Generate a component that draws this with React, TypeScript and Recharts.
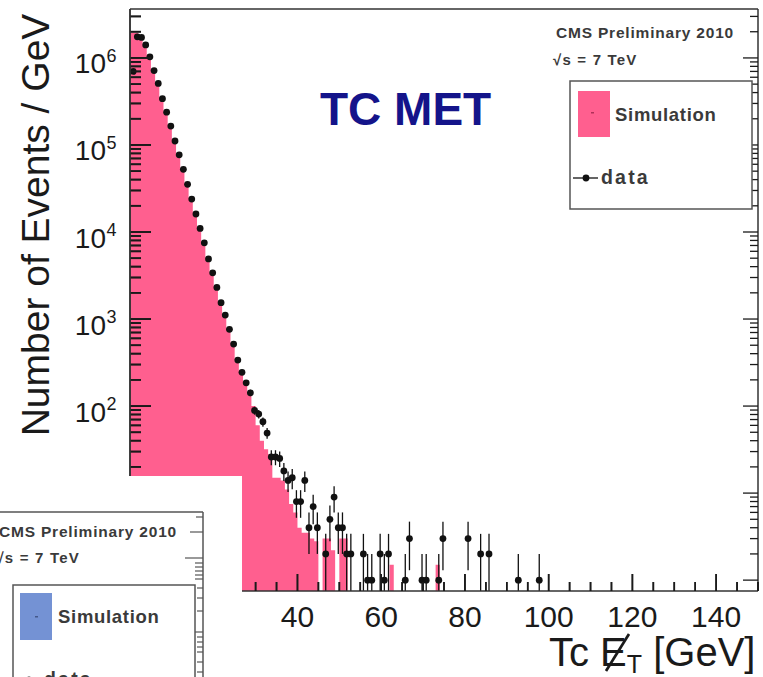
import React from "react";
import { Area, ComposedChart, ErrorBar, ReferenceLine, Scatter, XAxis, YAxis } from "recharts";

const W = 763;
const H = 677;
const FONT = "'Liberation Sans', Arial, Helvetica, sans-serif";
const PINK = "#ff5f8f";
const INK = "#1a1a1a";

const X_MAX = 150;
const Y_MIN = 0.75;
const Y_MAX = 3.65e6;

// simulation, events / GeV, 1 GeV bins from 0 GeV (0 = empty bin)
const SIM = [
  1.95e6, 1.95e6, 1.75e6, 1.45e6, 1.06e6, 7.4e5, 5.3e5, 3.55e5, 2.48e5, 1.72e5,
  1.16e5, 8.0e4, 5.45e4, 3.65e4, 2.48e4, 1.67e4, 1.14e4, 7800, 5100, 3500,
  2400, 1600, 1150, 790, 535, 350, 255, 192, 140, 100,
  60, 40, 32, 28, 15, 15, 14, 11, 7.5, 6,
  4, 3.5, 3.5, 3, 2.8, 0, 3, 3, 2.2, 0,
  3, 3, 0, 0, 0, 0, 0, 0, 0, 0,
  0, 0, 1.5, 0, 0, 0, 0, 0, 0, 0,
  0, 0, 0, 1.5,
];

// data points: bin centre [GeV], events / GeV, stat. error
const DATA_X = [
  0.75, 1.75, 2.75, 3.75, 4.75, 5.75, 6.75, 7.75, 8.75, 9.75,
  10.75, 11.75, 12.75, 13.75, 14.75, 15.75, 16.75, 17.75, 18.75, 19.75,
  20.75, 21.75, 22.75, 23.75, 24.75, 25.75, 26.75, 27.75, 28.75, 29.75,
  30.75, 31.75, 32.75, 33.75, 34.75, 35.75, 36.75, 37.75, 38.75, 39.75,
  40.75, 41.75, 42.75, 43.75, 44.75, 46.75, 47.75, 48.75, 49.75, 50.75,
  51.75, 52.75, 55.75, 56.75, 57.75, 59.75, 60.75, 61.75, 65.75, 66.75,
  69.75, 70.75, 73.75, 74.75, 80.75, 83.75, 85.75, 92.75, 97.75,
];
const DATA_Y = [
  7.0e5, 1.75e6, 1.72e6, 1.41e6, 1.03e6, 7.15e5, 5.1e5, 3.4e5, 2.38e5, 1.65e5,
  1.11e5, 7.7e4, 5.25e4, 3.53e4, 2.39e4, 1.61e4, 1.1e4, 7500, 4900, 3400,
  2310, 1540, 1110, 762, 516, 338, 244, 185, 142, 89,
  81, 66, 49, 26, 26, 25, 18, 14, 15, 8,
  8, 14, 4, 7, 4, 2, 5, 9, 4, 4,
  2, 2, 2, 1, 1, 2, 1, 2, 1, 3,
  1, 1, 1, 3, 3, 2, 2, 1, 1,
];
const DATA_ERR = [
  837, 1323, 1311, 1187, 1015, 846, 714, 583, 488, 406,
  333, 277, 229, 188, 155, 127, 105, 87, 70, 58,
  48, 39, 33, 28, 23, 18, 16, 14, 12, 9.4,
  9, 8.1, 7, 5.1, 5.1, 5, 4.2, 3.7, 3.9, 2.8,
  2.8, 3.7, 2, 2.6, 2, 1.4, 2.2, 3, 2, 2,
  1.4, 1.4, 1.4, 1, 1, 1.4, 1, 1.4, 1, 1.7,
  1, 1, 1, 1.7, 1.7, 1.4, 1.4, 1, 1,
];

const X_LABELS = [20, 40, 60, 80, 100, 120, 140];
const X_TICKS = Array.from({ length: 31 }, (_, i) => i * 5);
const Y_DECADES = [1, 10, 100, 1e3, 1e4, 1e5, 1e6];
const Y_MINOR = [2, 3, 4, 5, 6, 7, 8, 9];
const Y_TICKS = Y_DECADES.flatMap((d) => [d, ...Y_MINOR.map((m) => d * m)]).filter((v) => v <= Y_MAX);

const simRows = [
  ...SIM.map((v, k) => ({ x: k, sim: v > 0 ? v : Y_MIN })),
  { x: SIM.length, sim: Y_MIN },
];
const dataRows = DATA_X.map((x, i) => ({
  x,
  y: DATA_Y[i],
  err: [Math.min(DATA_ERR[i], DATA_Y[i] - Y_MIN), DATA_ERR[i]],
}));

// plot box follows from the margins and axis sizes below
const Y_AXIS_W = 130;
const R_AXIS_W = 5;
const X_AXIS_H = 86;
const MARGIN = { top: 9, right: 0, bottom: 0, left: 0 };
const PLOT = {
  left: Y_AXIS_W,
  right: W - R_AXIS_W,
  top: MARGIN.top,
  bottom: H - X_AXIS_H,
};

function XTick(p: any) {
  const { x, y, payload } = p;
  const major = X_LABELS.includes(payload.value);
  return (
    <g>
      <line x1={x} x2={x} y1={y} y2={y - (major ? 17 : 9)} stroke={INK} strokeWidth={1.6} />
      {major ? (
        <text x={x} y={y + 36} textAnchor="middle" fontSize={30} fill={INK} fontFamily={FONT}>
          {payload.value}
        </text>
      ) : null}
    </g>
  );
}

function YTickLeft(p: any) {
  const { x, y, payload } = p;
  const exp = Y_DECADES.indexOf(payload.value);
  const major = exp >= 0;
  return (
    <g>
      <line x1={x} x2={x + (major ? 21 : 11)} y1={y} y2={y} stroke={INK} strokeWidth={1.7} />
      {major && exp >= 2 ? (
        <>
          <text x={x - 24} y={y + 15.5} textAnchor="end" fontSize={28} fill={INK} fontFamily={FONT}>
            10
          </text>
          <text x={x - 23.5} y={y + 4} fontSize={18} fill={INK} fontFamily={FONT}>
            {exp}
          </text>
        </>
      ) : major ? (
        <text x={x - 14} y={y + 10} textAnchor="end" fontSize={28} fill={INK} fontFamily={FONT}>
          {payload.value}
        </text>
      ) : null}
    </g>
  );
}

function YTickRight(p: any) {
  const { x, y, payload } = p;
  const major = Y_DECADES.includes(payload.value);
  return <line x1={x} x2={x - (major ? 15 : 8)} y1={y} y2={y} stroke={INK} strokeWidth={1.3} />;
}

function DataDot(p: any) {
  if (p.cx == null || p.cy == null) return null;
  return <circle cx={p.cx} cy={p.cy} r={3.4} fill="#111" />;
}

// the axes are drawn twice: hidden under the series (for the layout) and visible on top
function Axes({ show }: { show: boolean }) {
  const line = show ? { stroke: "#333", strokeWidth: 1.5 } : false;
  return (
    <>
      <XAxis
        type="number"
        dataKey="x"
        domain={[0, X_MAX]}
        allowDataOverflow
        ticks={X_TICKS}
        interval={0}
        height={X_AXIS_H}
        tickSize={0}
        tickMargin={0}
        tick={show ? XTick : false}
        tickLine={false}
        axisLine={line}
      />
      <YAxis
        yAxisId="l"
        type="number"
        scale="log"
        domain={[Y_MIN, Y_MAX]}
        allowDataOverflow
        ticks={Y_TICKS}
        interval={0}
        width={Y_AXIS_W}
        tickSize={0}
        tickMargin={0}
        tick={show ? YTickLeft : false}
        tickLine={false}
        axisLine={line}
      />
      <YAxis
        yAxisId="r"
        orientation="right"
        type="number"
        scale="log"
        domain={[Y_MIN, Y_MAX]}
        allowDataOverflow
        ticks={Y_TICKS}
        interval={0}
        width={R_AXIS_W}
        tickSize={0}
        tickMargin={0}
        tick={show ? YTickRight : false}
        tickLine={false}
        axisLine={line}
      />
    </>
  );
}

// tick marks repeated on top of the filled histogram (ROOT draws the frame last)
const tickY = (v: number) =>
  PLOT.bottom -
  ((Math.log(v) - Math.log(Y_MIN)) / (Math.log(Y_MAX) - Math.log(Y_MIN))) * (PLOT.bottom - PLOT.top);
const tickX = (v: number) => PLOT.left + (v / X_MAX) * (PLOT.right - PLOT.left);

function FrameTicks() {
  return (
    <g stroke={INK}>
      {Y_TICKS.map((v) => {
        const major = Y_DECADES.includes(v);
        const y = tickY(v);
        return <line key={`y${v}`} x1={PLOT.left} x2={PLOT.left + (major ? 21 : 11)} y1={y} y2={y} strokeWidth={1.7} />;
      })}
      {X_TICKS.map((v) => {
        const major = X_LABELS.includes(v);
        const x = tickX(v);
        return <line key={`x${v}`} x1={x} x2={x} y1={PLOT.bottom} y2={PLOT.bottom - (major ? 17 : 9)} strokeWidth={1.6} />;
      })}
      <line x1={PLOT.left} x2={PLOT.left} y1={PLOT.top} y2={PLOT.bottom} stroke="#333" strokeWidth={1.5} />
    </g>
  );
}

const INSET_TICKS = [
  [517, 7], [532, 13], [558, 18], [563, 8], [567, 8], [571, 8], [575, 8], [579, 8],
  [588, 6], [598, 6], [611, 6], [632, 16], [637, 6], [642, 6], [647, 6], [652, 6], [662, 6], [672, 6],
];

function Overlay() {
  const label = { fontFamily: FONT, fontWeight: 700, fill: "#3a3a3a" } as const;
  return (
    <svg width={W} height={H} style={{ position: "absolute", left: 0, top: 0, zIndex: 3, pointerEvents: "none" }}>
      <FrameTicks />
      <text x={320} y={125} fontSize={46} fontWeight={700} fill="#14148a" fontFamily={FONT}>
        TC MET
      </text>
      <text x={556} y={38} fontSize={15.5} letterSpacing={0.8} {...label}>CMS Preliminary 2010</text>
      <text x={553} y={65} fontSize={15} letterSpacing={1.2} {...label}>√s = 7 TeV</text>
      <rect x={570} y={81} width={182} height={128} fill="#fff" stroke="#555" strokeWidth={1.5} />
      <rect x={578} y={91} width={32} height={46} fill={PINK} />
      <rect x={591} y={112} width={3} height={1.5} fill="#b03058" />
      <text x={615} y={121} fontSize={18.5} letterSpacing={0.7} {...label}>Simulation</text>
      <line x1={573} x2={598} y1={178} y2={178} stroke="#111" strokeWidth={1.3} />
      <circle cx={586} cy={178} r={3.4} fill="#111" />
      <text x={601} y={184} fontSize={19.5} letterSpacing={2.2} {...label}>data</text>

      <text
        transform="translate(49,225) rotate(-90)"
        textAnchor="middle"
        fontSize={39}
        fill={INK}
        fontFamily={FONT}
      >
        Number of Events / GeV
      </text>
      <text x={549} y={666} fontSize={40} fill={INK} fontFamily={FONT}>
        Tc E
        <tspan dy={7} fontSize={25}>T</tspan>
        <tspan dy={-7}> [GeV]</tspan>
      </text>
      <line x1={606} x2={629} y1={671} y2={634} stroke={INK} strokeWidth={2.7} />

      {/* corner of the neighbouring plot pasted over the lower left */}
      <rect x={0} y={476} width={242} height={H - 476} fill="#fff" />
      <line x1={0} x2={203} y1={512} y2={512} stroke="#555" strokeWidth={1.5} />
      <line x1={203} x2={203} y1={512} y2={H} stroke="#555" strokeWidth={1.5} />
      {INSET_TICKS.map(([ty, len]) => (
        <line key={ty} x1={203} x2={203 - len} y1={ty} y2={ty} stroke="#555" strokeWidth={1.2} />
      ))}
      <text x={177} y={537} textAnchor="end" fontSize={15.5} letterSpacing={0.8} {...label}>CMS Preliminary 2010</text>
      <text x={80} y={563} textAnchor="end" fontSize={15} letterSpacing={1.2} {...label}>√s = 7 TeV</text>
      <rect x={13} y={585} width={182} height={130} fill="#fff" stroke="#555" strokeWidth={1.5} />
      <rect x={20} y={593} width={32} height={47} fill="#7492d4" />
      <rect x={35} y={616} width={3} height={1.5} fill="#44588a" />
      <text x={58} y={623} fontSize={18.5} letterSpacing={0.7} {...label}>Simulation</text>
      <line x1={16} x2={41} y1={680} y2={680} stroke="#111" strokeWidth={1.3} />
      <circle cx={29} cy={680} r={3.4} fill="#111" />
      <text x={44} y={686} fontSize={19.5} letterSpacing={2.2} {...label}>data</text>
    </svg>
  );
}

export default function App() {
  return (
    <div style={{ position: "relative", width: W, height: H, background: "#fff", overflow: "hidden" }}>
      <style>{"body{margin:0}"}</style>
      <div style={{ position: "absolute", left: 0, top: 0, zIndex: 1 }}>
        <ComposedChart width={W} height={H} data={simRows} margin={MARGIN}>
          <Area
            yAxisId="l"
            type="stepAfter"
            dataKey="sim"
            baseValue={Y_MIN}
            fill={PINK}
            fillOpacity={1}
            stroke="none"
            dot={false}
            activeDot={false}
            isAnimationActive={false}
          />
          <Scatter yAxisId="l" data={dataRows} dataKey="y" shape={DataDot} isAnimationActive={false}>
            <ErrorBar dataKey="err" direction="y" width={0} stroke="#111" strokeWidth={1.3} />
          </Scatter>
          {Axes({ show: false })}
        </ComposedChart>
      </div>
      <div style={{ position: "absolute", left: 0, top: 0, zIndex: 2, pointerEvents: "none" }}>
        <ComposedChart width={W} height={H} data={simRows} margin={MARGIN}>
          {Axes({ show: true })}
          <ReferenceLine yAxisId="l" y={Y_MAX} stroke="#333" strokeWidth={1.5} ifOverflow="visible" />
        </ComposedChart>
      </div>
      <Overlay />
    </div>
  );
}
